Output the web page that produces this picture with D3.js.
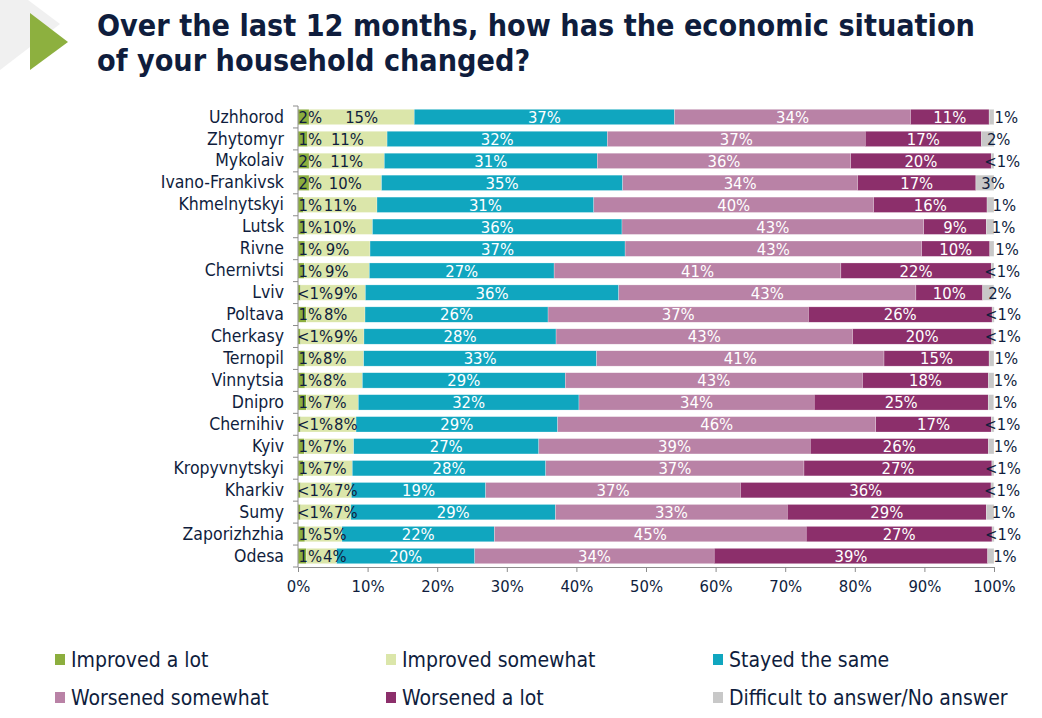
<!DOCTYPE html>
<html>
<head>
<meta charset="utf-8">
<script src="https://cdn.jsdelivr.net/npm/d3@7"></script>
<style>
  body { margin: 0; background: #fff; }
  svg { display: block; }
  text { font-family: "Liberation Sans Narrow", "DejaVu Sans Condensed", "DejaVu Sans", sans-serif; }
</style>
</head>
<body>
<div class="graph"></div>
<script>
// data (percent of households)
const cities = ['Uzhhorod', 'Zhytomyr', 'Mykolaiv', 'Ivano-Frankivsk', 'Khmelnytskyi', 'Lutsk', 'Rivne',
    'Chernivtsi', 'Lviv', 'Poltava', 'Cherkasy', 'Ternopil', 'Vinnytsia', 'Dnipro', 'Chernihiv', 'Kyiv',
    'Kropyvnytskyi', 'Kharkiv', 'Sumy', 'Zaporizhzhia', 'Odesa'];
const improvedLot      = [1.6, 1.4, 1.6, 1.6, 0.8, 1.0, 1.0, 0.9, 0.4, 1.2, 0.4, 1.0, 1.0, 1.2, 0.4, 0.9, 0.8, 0.4, 0.4, 1.0, 1.2];
const improvedSomewhat = [15.1, 11.4, 10.8, 10.4, 10.55, 9.7, 9.35, 9.35, 9.28, 8.43, 9.08, 8.44, 8.25, 7.47, 7.94, 7.1, 7.0, 7.27, 7.2, 5.32, 4.36];
const stayedSame       = [37.4, 31.65, 30.6, 34.65, 31.15, 35.85, 36.65, 26.55, 36.4, 26.3, 27.6, 33.46, 29.15, 31.7, 28.97, 26.6, 27.8, 19.3, 29.4, 21.9, 19.84];
const worsenedSomewhat = [33.9, 37.05, 36.4, 33.75, 40.2, 43.35, 42.6, 41.2, 42.7, 37.4, 42.6, 41.3, 42.7, 33.8, 45.7, 39.0, 37.1, 36.6, 33.3, 44.8, 34.4];
const worsenedLot      = [11.3, 16.7, 20.2, 17.0, 16.3, 9.0, 9.8, 21.6, 9.6, 26.4, 20.0, 15.1, 18.1, 25.0, 16.6, 25.6, 27.0, 36.0, 28.6, 26.7, 39.3];
const noAnswer         = [0.7, 1.8, 0.4, 2.6, 1.0, 1.1, 0.6, 0.4, 1.6, 0.3, 0.3, 0.7, 0.8, 0.8, 0.4, 0.8, 0.3, 0.4, 1.1, 0.3, 0.9];

const seriesNames = ['Improved a lot', 'Improved somewhat', 'Stayed the same',
    'Worsened somewhat', 'Worsened a lot', 'Difficult to answer/No answer'];
const xTicks = [0, 10, 20, 30, 40, 50, 60, 70, 80, 90, 100];

const colours = ['#8cae3e', '#dbe6aa', '#10a6bf', '#b982a6', '#8c2f6b', '#c8c8c8'];
const navy = '#0f1d3d';
const narrow = '"Liberation Sans Narrow", "DejaVu Sans Condensed", "DejaVu Sans", sans-serif';

const svgDim = { w: 1042, h: 718 };
const svg = d3.select('.graph').append('svg').attr('width', svgDim.w).attr('height', svgDim.h);

// header: grey chevron + green arrow
svg.append('polygon').attr('points', '0,0 28,0 60,24 0,70').attr('fill', '#f0f0f0');
svg.append('polygon').attr('points', '30,13 30,70 68,42').attr('fill', '#8db03f');

const titleLines = ['Over the last 12 months, how has the economic situation', 'of your household changed?'];
const title = svg.append('g').style('font-family', '"DejaVu Sans", sans-serif');
const t1 = title.append('text').attr('x', 97).attr('y', 36).attr('font-size', 28).attr('font-weight', 'bold')
    .attr('fill', navy).text(titleLines[0]);
const fit = 28 * 878 / t1.node().getComputedTextLength();
t1.attr('font-size', fit);
title.append('text').attr('x', 97).attr('y', 71).attr('font-size', fit).attr('font-weight', 'bold')
    .attr('fill', navy).text(titleLines[1]);

// table for the stack
const keys = d3.range(seriesNames.length);
const seriesValues = [improvedLot, improvedSomewhat, stayedSame, worsenedSomewhat, worsenedLot, noAnswer];
const rows = cities.map((c, i) => {
    const r = { city: c };
    keys.forEach(k => r[k] = seriesValues[k][i]);
    return r;
});
const stacked = d3.stack().keys(keys)(rows);

const xScale = d3.scaleLinear().domain([0, 100]).range([298, 994]);
const yScale = d3.scaleBand().domain(cities).range([106, 567]).paddingInner(0.3).paddingOuter(0.15);

const fmt = v => v < 0.5 ? '<1%' : Math.round(v) + '%';

const layers = svg.append('g').selectAll('g').data(stacked).join('g').attr('fill', (d, i) => colours[i]);
layers.selectAll('rect').data(d => d).join('rect')
    .attr('x', d => xScale(d[0]))
    .attr('y', d => yScale(d.data.city))
    .attr('width', d => xScale(d[1]) - xScale(d[0]))
    .attr('height', yScale.bandwidth())
    .attr('stroke', '#ffffff').attr('stroke-opacity', 0.5).attr('stroke-width', 0.5);

// value labels
const labels = svg.append('g').attr('font-size', 16.5);
const labelSets = stacked.map((layer, k) =>
    labels.selectAll(null).data(layer).join('text')
        .attr('x', d => {
            if (k === 0) return xScale(d[0]) + (d[1] - d[0] < 0.5 ? -1 : 0.5);
            if (k === 5) return xScale(d[0]) + 29;
            return (xScale(d[0]) + xScale(d[1])) / 2;
        })
        .attr('y', d => yScale(d.data.city) + yScale.bandwidth() / 2)
        .attr('dy', '0.36em')
        .attr('text-anchor', k === 0 ? 'start' : (k === 5 ? 'end' : 'middle'))
        .attr('fill', k < 2 || k === 5 ? navy : '#ffffff')
        .text(d => fmt(d[1] - d[0]))
);
// push "improved somewhat" labels right when they run into the first label
labelSets[1].each(function (d, i) {
    const prev = labelSets[0].nodes()[i].getBBox();
    const box = this.getBBox();
    const minLeft = prev.x + prev.width + 1;
    if (box.x < minLeft) d3.select(this).attr('x', +d3.select(this).attr('x') + (minLeft - box.x));
});

// x axis
const xAxis = d3.axisBottom(xScale).tickValues(xTicks).tickFormat(d => d + '%').tickSize(5).tickSizeOuter(0);
const gx = svg.append('g').attr('transform', 'translate(0,567)').call(xAxis).attr('id', 'x-axis');
gx.select('.domain').attr('stroke', '#8c8c8c');
gx.selectAll('.tick line').attr('stroke', '#8c8c8c');
gx.selectAll('.tick text').attr('font-size', 16.5).attr('fill', navy).attr('dy', '1.05em')
    .style('font-family', narrow);

// y axis
const yAxis = d3.axisLeft(yScale).tickSize(0).tickPadding(14);
const gy = svg.append('g').attr('transform', 'translate(298,0)').call(yAxis).attr('id', 'y-axis');
gy.select('.domain').attr('stroke', '#8c8c8c').attr('d', 'M0,106V567');
gy.selectAll('.tick text').attr('font-size', 17.5).attr('fill', navy)
    .style('font-family', narrow);
gy.selectAll('.sep').data(d3.range(cities.length + 1)).join('line').attr('class', 'sep')
    .attr('x1', -5).attr('x2', 0)
    .attr('y1', i => 106 + i * yScale.step()).attr('y2', i => 106 + i * yScale.step())
    .attr('stroke', '#8c8c8c');

// legend
const legendX = [55, 386, 713];
const legendY = [660, 698];
const legend = svg.append('g').selectAll('g').data(seriesNames).join('g')
    .attr('transform', (d, i) => `translate(${legendX[i % 3]},${legendY[Math.floor(i / 3)]})`);
legend.append('rect').attr('x', 0).attr('y', -6).attr('width', 10).attr('height', 11)
    .attr('fill', (d, i) => colours[i]);
legend.append('text').attr('x', 16).attr('dy', '0.35em').attr('font-size', 21).attr('fill', navy).text(d => d);
</script>
</body>
</html>
